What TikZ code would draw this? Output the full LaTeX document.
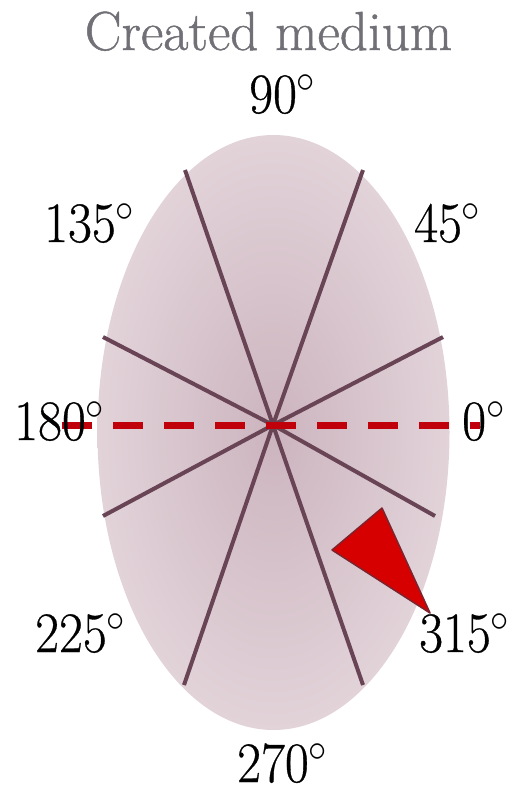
\RequirePackage{fix-cm}
\documentclass[tikz,border=0pt]{standalone}
\usepackage{fontspec}
\usepackage{graphicx}
\usetikzlibrary{shadows}
\newfontfamily\titlefont[FakeBold=0.9]{Latin Modern Roman}
\newfontfamily\labfont[FakeBold=0.6]{Latin Modern Roman}
\definecolor{spokecol}{RGB}{105,68,85}
\definecolor{dashcol}{RGB}{192,0,10}
\definecolor{trifill}{RGB}{215,0,0}
\definecolor{tridraw}{RGB}{125,35,45}
\definecolor{titlecol}{RGB}{112,112,118}
\definecolor{ellin}{RGB}{204,180,190}
\definecolor{ellout}{RGB}{226,211,217}
\newcommand{\deglab}[1]{\scalebox{1}[1.1]{#1$^\circ$}}
\begin{document}
\begin{tikzpicture}[x=1pt,y=-1pt,
  spoke/.style={draw=spokecol,line width=4pt},
  axisline/.style={draw=dashcol,line width=7pt,dash pattern=on 30pt off 21pt},
  anglab/.style={anchor=base west,inner sep=0pt,font=\fontsize{52}{52}\labfont,text=black},
  titlelab/.style={anchor=base,inner sep=0pt,font=\fontsize{55}{55}\titlefont,text=titlecol},
  pointer/.style={fill=trifill,draw=tridraw,line width=1.5pt,line join=round,
    drop shadow={shadow xshift=1.5pt,shadow yshift=-1.5pt,opacity=0.35}}]
\useasboundingbox (0,0) rectangle (526,795);
% medium
\path[shading=radial,inner color=ellin,outer color=ellout] (273.5,432.5) ellipse [x radius=176, y radius=297.5];
\coordinate (c) at (273,425);
\coordinate (tl) at (185,170);
\coordinate (tr) at (363,170);
\coordinate (ul) at (103,337);
\coordinate (ur) at (443,337);
\coordinate (ll) at (103,516);
\coordinate (lr) at (435,516);
\coordinate (bl) at (184,685);
\coordinate (br) at (363,685);
\foreach \p in {tl,tr,ul,ur,ll,lr,bl,br} \draw[spoke] (c) -- (\p);
% axis
\coordinate (dl) at (62,425);
\coordinate (dr) at (480,425);
\draw[axisline] (dl) -- (dr);
% pointer
\coordinate (ta) at (382,508);
\coordinate (tb) at (332,550);
\coordinate (tc) at (430,613);
\draw[pointer] (ta) -- (tb) -- (tc) -- cycle;
% labels
\node[titlelab] (title) at (268.5,50) {Created medium};
\node[anglab] (a90) at (249,113) {\deglab{90}};
\node[anglab] (a45) at (414,242) {\deglab{45}};
\node[anglab] (a135) at (44,242) {\deglab{135}};
\node[anglab] (a180) at (14,440) {\deglab{180}};
\node[anglab] (a0) at (462,440) {\deglab{0}};
\node[anglab] (a225) at (35,652) {\deglab{225}};
\node[anglab] (a315) at (419,652) {\deglab{315}};
\node[anglab] (a270) at (237,782) {\deglab{270}};
\end{tikzpicture}
\end{document}
